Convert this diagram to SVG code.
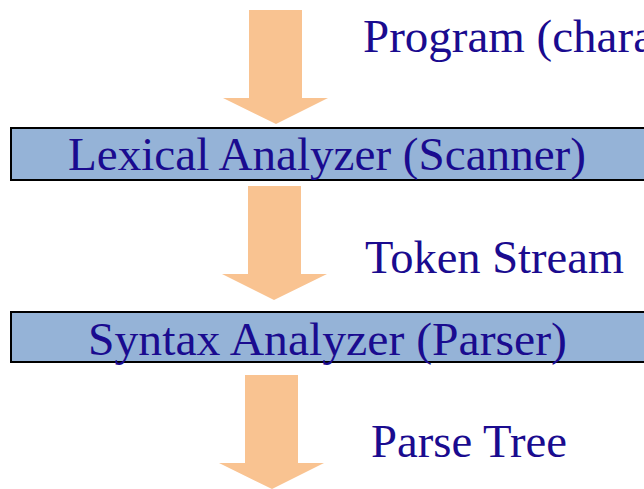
<svg xmlns="http://www.w3.org/2000/svg" width="644" height="489" viewBox="0 0 644 489">
  <style>
    .flow { fill: #f9c391; }
    .stage { fill: #95b3d7; stroke: #000; stroke-width: 2; }
    .lbl { font-family: "Liberation Serif", "Times New Roman", serif; font-size: 47px; fill: #1a0b8f; }
  </style>
  <rect width="644" height="489" fill="#fff"/>
  <g id="connectors">
    <polygon class="flow" points="249,10 302,10 302,98 328,98 276,124 223,98 249,98"/>
    <polygon class="flow" points="248,186 301,186 301,274 327,274 274,300 222,274 248,274"/>
    <polygon class="flow" points="245,375 298,375 298,463 324,463 272,489 219,463 245,463"/>
  </g>
  <g id="input-label">
    <text class="lbl" x="363" y="52">Program (characters)</text>
  </g>
  <g id="scanner">
    <rect class="stage" x="11" y="128" width="650" height="52"/>
    <text class="lbl" x="68" y="170" textLength="518" lengthAdjust="spacingAndGlyphs">Lexical Analyzer (Scanner)</text>
  </g>
  <g id="token-label">
    <text class="lbl" x="365" y="273" textLength="259" lengthAdjust="spacingAndGlyphs">Token Stream</text>
  </g>
  <g id="parser">
    <rect class="stage" x="11" y="312" width="650" height="50"/>
    <text class="lbl" x="88" y="355" textLength="479" lengthAdjust="spacingAndGlyphs">Syntax Analyzer (Parser)</text>
  </g>
  <g id="tree-label">
    <text class="lbl" x="371" y="457" textLength="196" lengthAdjust="spacingAndGlyphs">Parse Tree</text>
  </g>
</svg>
